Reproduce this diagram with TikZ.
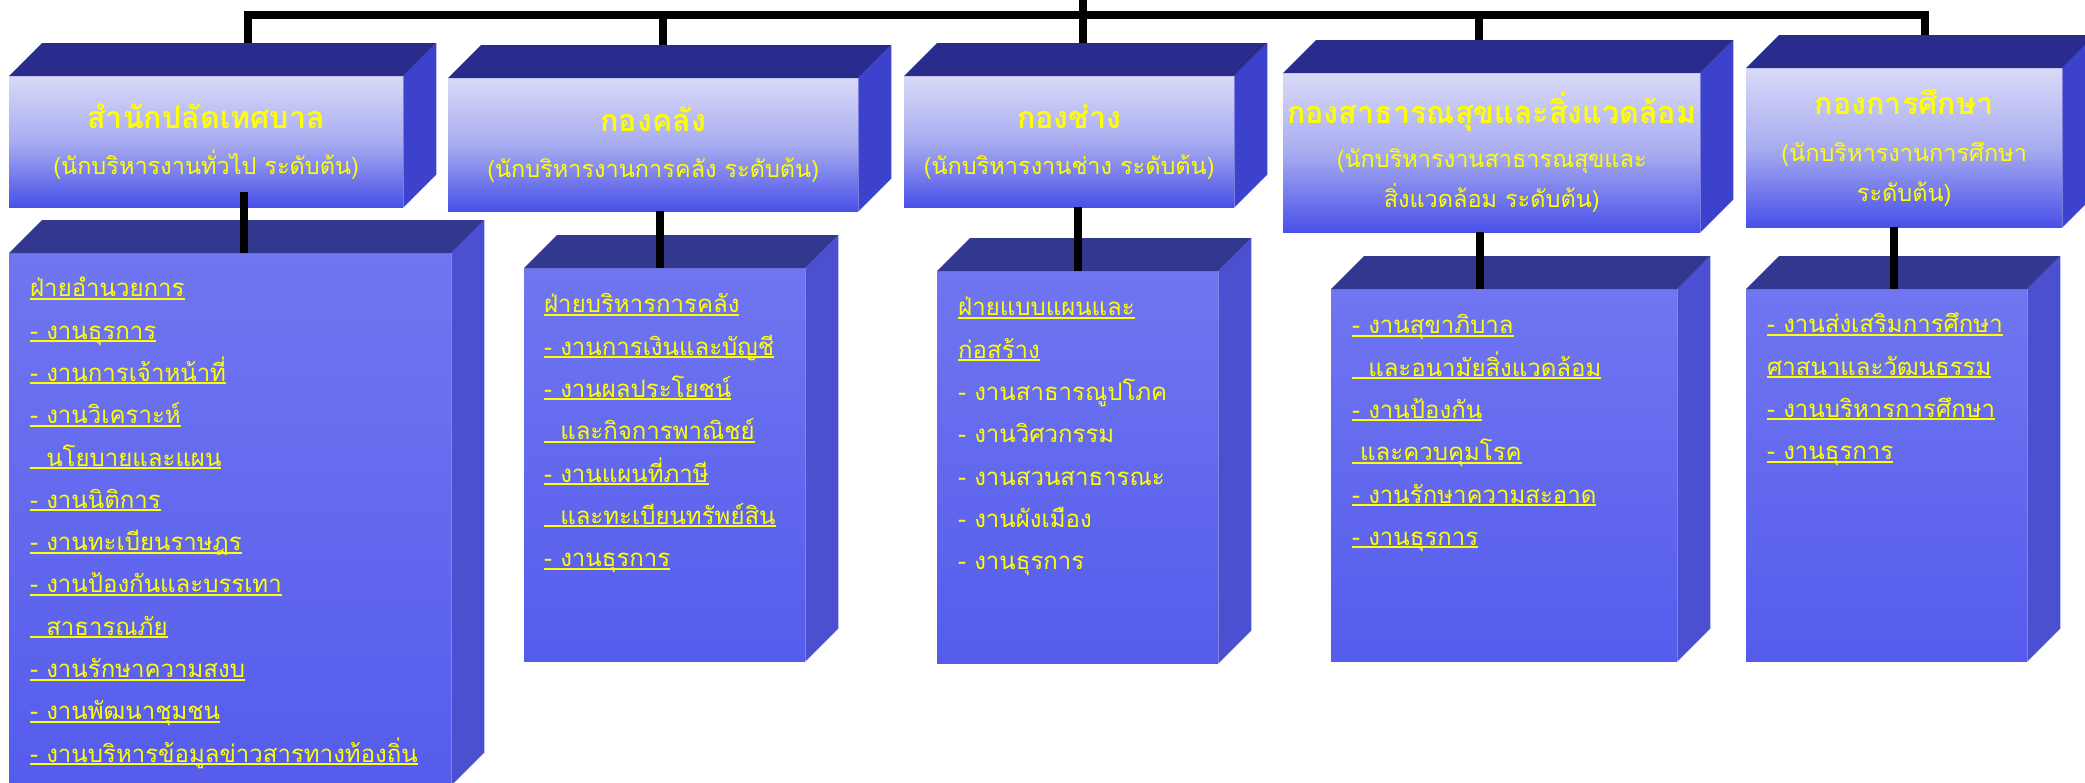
\documentclass[tikz,border=0pt]{standalone}
\usepackage{fontspec}
\setmainfont[Script=Thai]{Loma}
\usepackage{tikz}
\definecolor{headlight}{RGB}{217,217,248}
\definecolor{headmid}{RGB}{168,172,240}
\definecolor{headblue}{RGB}{72,80,232}
\definecolor{headtop}{RGB}{41,44,140}
\definecolor{headside}{RGB}{60,66,204}
\definecolor{sublight}{RGB}{112,118,240}
\definecolor{subblue}{RGB}{85,92,236}
\definecolor{subtop}{RGB}{51,56,143}
\definecolor{subside}{RGB}{74,80,208}
\definecolor{thaiyellow}{RGB}{255,255,0}
\newcommand{\ulline}[1]{\setbox0\hbox{#1}\rlap{\rule[-3pt]{\wd0}{2pt}}\box0\strut}
\newcommand{\boxsides}[3]{%
  \fill[#2] (#1.north west) -- ++(33,-33) -- ([shift={(33,-33)}]#1.north east) -- (#1.north east) -- cycle;
  \fill[#3] (#1.north east) -- ++(33,-33) -- ([shift={(33,-33)}]#1.south east) -- (#1.south east) -- cycle;}

\begin{document}
\begin{tikzpicture}[x=1pt,y=-1pt,every node/.style={inner sep=0pt,text=thaiyellow},
  headbox/.style={anchor=north west,top color=headlight,bottom color=headblue,middle color=headmid,align=center,font=\fontsize{23.5}{40}\selectfont},
  subbox/.style={anchor=north west,top color=sublight,bottom color=subblue},
  items/.style={anchor=north west,align=left,font=\fontsize{24}{42.3}\selectfont},
  bar/.style={line width=7.5pt}]
\useasboundingbox (0,0) rectangle (2085,782);
\node[headbox,minimum width=394pt,minimum height=131pt] (b1) at (9,76) {{\bfseries\fontsize{30.5}{36}\selectfont สำนักปลัดเทศบาล}\\[6pt](นักบริหารงานทั่วไป ระดับต้น)};
\node[headbox,minimum width=410pt,minimum height=133pt] (b2) at (448,78) {{\bfseries\fontsize{30.5}{36}\selectfont กองคลัง}\\[6pt](นักบริหารงานการคลัง ระดับต้น)};
\node[headbox,minimum width=330pt,minimum height=131pt] (b3) at (904,76) {{\bfseries\fontsize{30.5}{36}\selectfont กองช่าง}\\[6pt](นักบริหารงานช่าง ระดับต้น)};
\node[headbox,minimum width=417pt,minimum height=159pt] (b4) at (1283,73) {{\bfseries\fontsize{30.5}{36}\selectfont กองสาธารณสุขและสิ่งแวดล้อม}\\[4pt](นักบริหารงานสาธารณสุขและ\\สิ่งแวดล้อม ระดับต้น)};
\node[headbox,minimum width=316pt,minimum height=159pt] (b5) at (1746,68) {{\bfseries\fontsize{30.5}{36}\selectfont กองการศึกษา}\\[7pt](นักบริหารงานการศึกษา\\ระดับต้น)};
\coordinate (root) at (1083,0);
\coordinate (hub) at (1083,15);
\coordinate (t1) at (248,15);
\coordinate (t2) at (663,15);
\coordinate (t4) at (1479,15);
\coordinate (t5) at (1925,15);
\draw[bar] (t1 |- b1.north) |- (hub) -| (t5 |- b5.north);
\draw[bar] (root) -- (hub |- b3.north);
\draw[bar] (t2) -- (t2 |- b2.north);
\draw[bar] (t4) -- (t4 |- b4.north);
\boxsides{b1}{headtop}{headside}
\boxsides{b2}{headtop}{headside}
\boxsides{b3}{headtop}{headside}
\boxsides{b4}{headtop}{headside}
\boxsides{b5}{headtop}{headside}
\node[subbox,minimum width=442pt,minimum height=532pt] (c1) at (9,253) {};
\node[subbox,minimum width=281pt,minimum height=393pt] (c2) at (524,268) {};
\node[subbox,minimum width=281pt,minimum height=392pt] (c3) at (937,271) {};
\node[subbox,minimum width=346pt,minimum height=372pt] (c4) at (1331,289) {};
\node[subbox,minimum width=281pt,minimum height=372pt] (c5) at (1746,289) {};
\boxsides{c1}{subtop}{subside}
\boxsides{c2}{subtop}{subside}
\boxsides{c3}{subtop}{subside}
\boxsides{c4}{subtop}{subside}
\boxsides{c5}{subtop}{subside}
\coordinate (k1) at (244,0);
\coordinate (k2) at (660,0);
\coordinate (k3) at (1078,0);
\coordinate (k4) at (1480,0);
\coordinate (k5) at (1894,0);
\draw[bar] ([yshift=15pt]k1 |- b1.south) -- (k1 |- c1.north);
\draw[bar] (k2 |- b2.south) -- (k2 |- c2.north);
\draw[bar] (k3 |- b3.south) -- (k3 |- c3.north);
\draw[bar] (k4 |- b4.south) -- (k4 |- c4.north);
\draw[bar] (k5 |- b5.south) -- (k5 |- c5.north);
\node[items] (c1t) at (30,267) {\ulline{ฝ่ายอำนวยการ}\\\ulline{- งานธุรการ}\\\ulline{- งานการเจ้าหน้าที่}\\\ulline{- งานวิเคราะห์}\\\ulline{\hphantom{- }นโยบายและแผน}\\\ulline{- งานนิติการ}\\\ulline{- งานทะเบียนราษฎร}\\\ulline{- งานป้องกันและบรรเทา}\\\ulline{\hphantom{- }สาธารณภัย}\\\ulline{- งานรักษาความสงบ}\\\ulline{- งานพัฒนาชุมชน}\\\ulline{- งานบริหารข้อมูลข่าวสารทางท้องถิ่น}};
\node[items] (c2t) at (544,283) {\ulline{ฝ่ายบริหารการคลัง}\\\ulline{- งานการเงินและบัญชี}\\\ulline{- งานผลประโยชน์}\\\ulline{\hphantom{- }และกิจการพาณิชย์}\\\ulline{- งานแผนที่ภาษี}\\\ulline{\hphantom{- }และทะเบียนทรัพย์สิน}\\\ulline{- งานธุรการ}};
\node[items] (c3t) at (958,286) {\ulline{ฝ่ายแบบแผนและ}\\\ulline{ก่อสร้าง}\\- งานสาธารณูปโภค\strut\\- งานวิศวกรรม\strut\\- งานสวนสาธารณะ\strut\\- งานผังเมือง\strut\\- งานธุรการ\strut};
\node[items] (c4t) at (1352,304) {\ulline{- งานสุขาภิบาล}\\\ulline{\hphantom{- }และอนามัยสิ่งแวดล้อม}\\\ulline{- งานป้องกัน}\\\ulline{\hphantom{-}และควบคุมโรค}\\\ulline{- งานรักษาความสะอาด}\\\ulline{- งานธุรการ}};
\node[items] (c5t) at (1767,303) {\ulline{- งานส่งเสริมการศึกษา}\\\ulline{ศาสนาและวัฒนธรรม}\\\ulline{- งานบริหารการศึกษา}\\\ulline{- งานธุรการ}};
\end{tikzpicture}
\end{document}
